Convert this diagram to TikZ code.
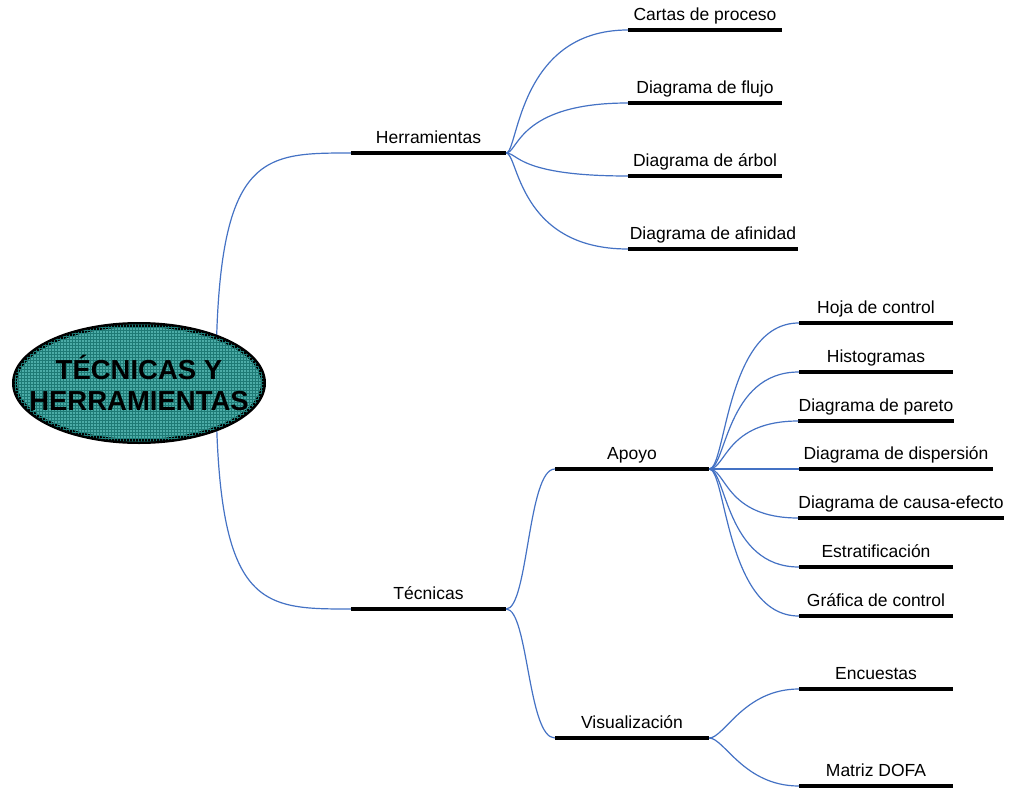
\documentclass[tikz,border=0pt]{standalone}
\usepackage{fontspec}
\setmainfont{Liberation Sans}
\usetikzlibrary{patterns}

\definecolor{linkblue}{RGB}{68,114,196}
\definecolor{tealbase}{RGB}{76,172,167}
\definecolor{tealgrid}{RGB}{30,122,117}

\tikzset{
  topic/.style={anchor=south, inner xsep=0pt, inner ysep=5pt,
    text height=12.5pt, text depth=4pt,
    font=\fontsize{17.5}{20}\selectfont},
  bar/.style={draw=black, line width=4.5pt},
  link/.style={draw=linkblue, line width=1.2pt},
  bubble/.style={draw=black, line width=5pt, fill=tealbase,
    postaction={pattern=grid, pattern color=tealgrid}},
  central/.style={inner sep=0pt, align=center,
    font=\bfseries\fontsize{27.5}{31}\selectfont}
}

\begin{document}
\begin{tikzpicture}[x=1pt,y=-1pt]
\useasboundingbox (0,0) rectangle (1009,789);

% first level
\node[topic, minimum width=155pt] (herr) at (428.5,153) {Herramientas};
\node[topic, minimum width=155pt] (tec)  at (428.5,609) {Técnicas};

% tools
\node[topic, minimum width=154pt] (cartas) at (705,30)  {Cartas de proceso};
\node[topic, minimum width=154pt] (flujo)  at (705,103) {Diagrama de flujo};
\node[topic, minimum width=154pt] (arbol)  at (705,176) {Diagrama de árbol};
\node[topic, minimum width=170pt] (afin)   at (713,249) {Diagrama de afinidad};

% techniques
\node[topic, minimum width=154pt] (apoyo)  at (632,469) {Apoyo};
\node[topic, minimum width=154pt] (visual) at (632,738) {Visualización};

% support techniques
\node[topic, minimum width=154pt] (hoja)   at (876,323) {Hoja de control};
\node[topic, minimum width=154pt] (histo)  at (876,372) {Histogramas};
\node[topic, minimum width=154pt] (pareto) at (876,421) {Diagrama de pareto};
\node[topic, minimum width=194pt] (disp)   at (896,469) {Diagrama de dispersión};
\node[topic, minimum width=204pt] (causa)  at (901,518) {Diagrama de causa-efecto};
\node[topic, minimum width=154pt] (estrat) at (876,567) {Estratificación};
\node[topic, minimum width=154pt] (graf)   at (876,616) {Gráfica de control};

% visualisation techniques
\node[topic, minimum width=154pt] (encu) at (876,689) {Encuestas};
\node[topic, minimum width=154pt] (dofa) at (876,786) {Matriz DOFA};

% underline bars
\foreach \n in {herr,tec,cartas,flujo,arbol,afin,apoyo,visual,
                hoja,histo,pareto,disp,causa,estrat,graf,encu,dofa}
  \draw[bar] (\n.south west) -- (\n.south east);

% branches from the central topic
\coordinate (hub) at (216,381);
\draw[link] (hub) .. controls (216,153) and (260,153) .. (herr.south west);
\draw[link] (hub) .. controls (216,609) and (260,609) .. (tec.south west);

% tools branches
\foreach \n in {cartas,flujo,arbol,afin}
  \draw[link] (herr.south east) .. controls +(12,0) and +(-110,0) .. (\n.south west);

% techniques branches
\foreach \n in {apoyo,visual}
  \draw[link] (tec.south east) .. controls +(22,0) and +(-27,0) .. (\n.south west);

% support branches
\foreach \n in {hoja,histo,pareto,disp,causa,estrat,graf}
  \draw[link] (apoyo.south east) .. controls +(17,0) and +(-73,0) .. (\n.south west);

% visualisation branches
\foreach \n in {encu,dofa}
  \draw[link] (visual.south east) .. controls +(15,0) and +(-55,0) .. (\n.south west);

% central topic
\path[bubble] (139,383) ellipse [x radius=124.5, y radius=58.5];
\node[central] (root) at (139,383) {TÉCNICAS Y\\HERRAMIENTAS};
\end{tikzpicture}
\end{document}
